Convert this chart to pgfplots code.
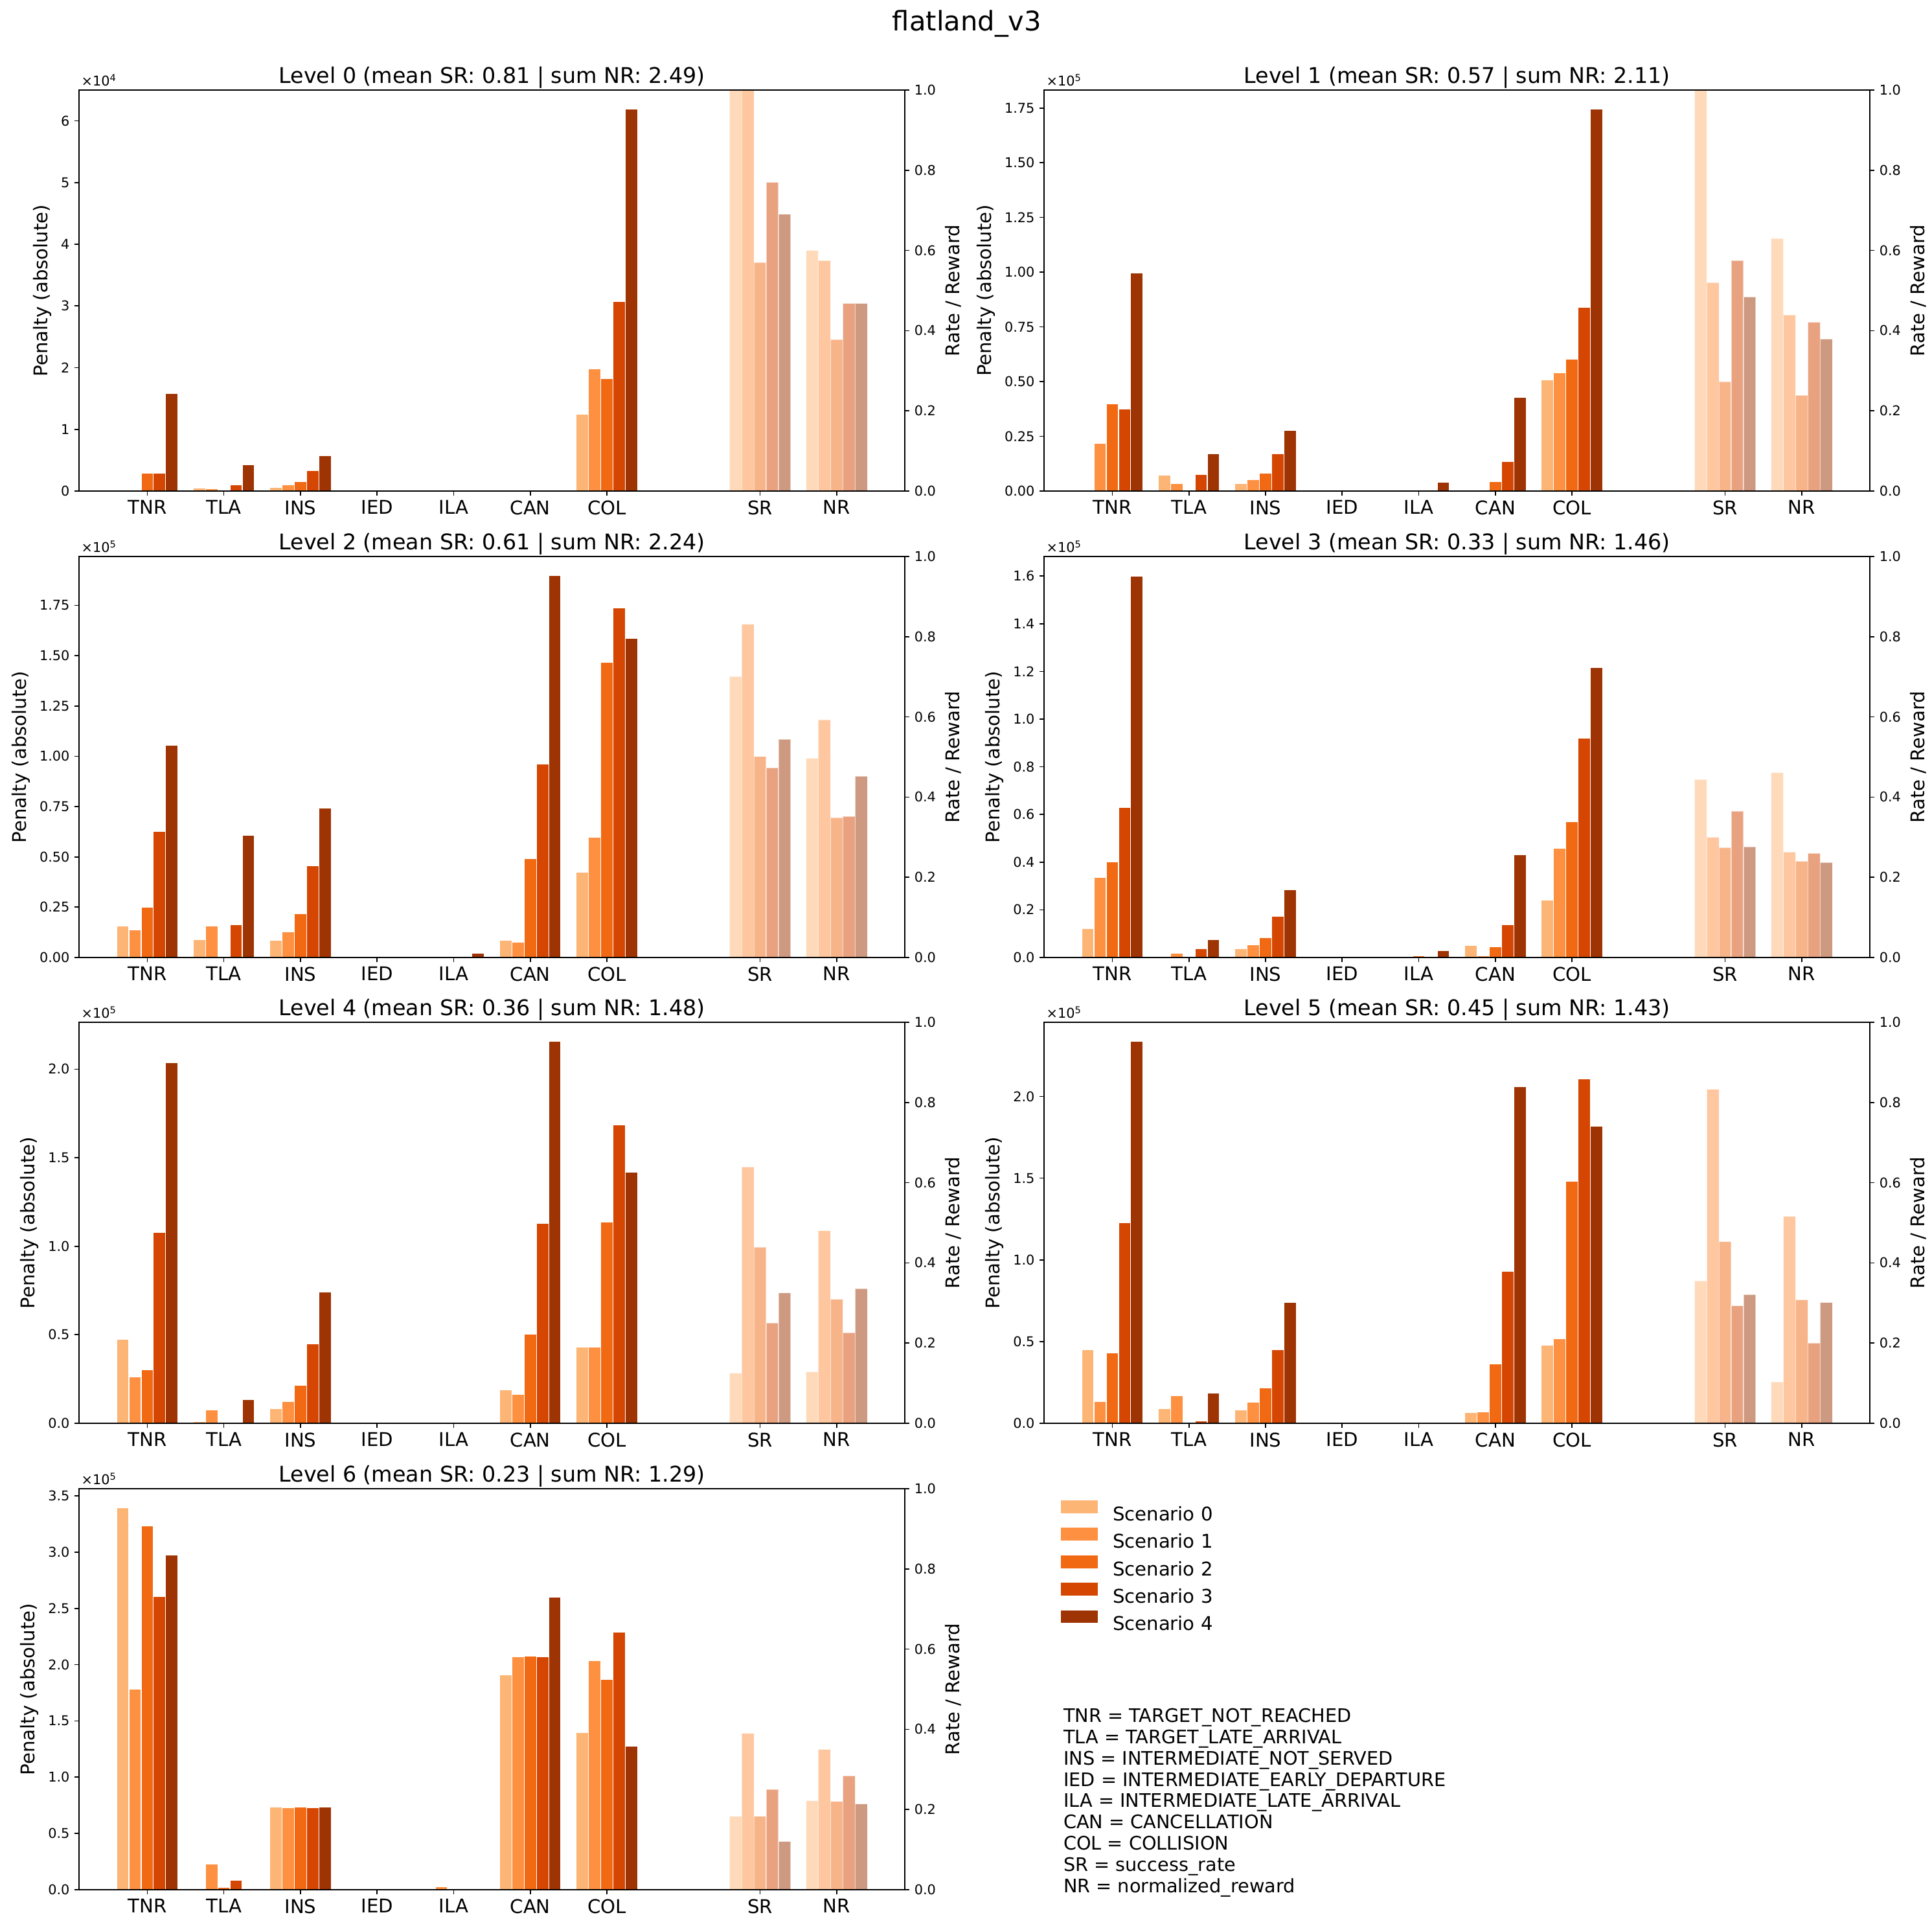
\documentclass[border=0pt]{standalone}
\usepackage{fontspec}
\setmainfont{DejaVu Sans}
\usepackage{pgfplots}
\usepackage{pgfplotstable}
\pgfplotsset{compat=1.18}

\definecolor{c0}{HTML}{FDB576}
\definecolor{c1}{HTML}{FD9041}
\definecolor{c2}{HTML}{F16913}
\definecolor{c3}{HTML}{D44601}
\definecolor{c4}{HTML}{9E3303}

% ---------------- data (penalty in units of the axis multiplier) ----------------
\pgfplotstableread{
x s0 s1 s2 s3 s4
0 0 0 0.29 0.29 1.58
1 0.048 0.039 0 0.098 0.43
2 0.06 0.098 0.154 0.333 0.575
3 0 0 0 0 0
4 0 0 0 0 0
5 0 0 0 0 0
6 1.24 1.98 1.82 3.07 6.19
}\penA
\pgfplotstableread{
x s0 s1 s2 s3 s4
8 1.0 1.0 0.57 0.77 0.69
9 0.60 0.575 0.378 0.468 0.468
}\rateA

\pgfplotstableread{
x s0 s1 s2 s3 s4
0 0 0.217 0.398 0.375 0.995
1 0.0715 0.033 0 0.075 0.17
2 0.033 0.052 0.081 0.17 0.277
3 0 0 0 0 0
4 0 0 0.005 0 0.04
5 0 0.004 0.042 0.134 0.428
6 0.508 0.54 0.602 0.84 1.745
}\penB
\pgfplotstableread{
x s0 s1 s2 s3 s4
8 1.0 0.52 0.273 0.575 0.484
9 0.63 0.439 0.239 0.421 0.379
}\rateB

\pgfplotstableread{
x s0 s1 s2 s3 s4
0 0.155 0.137 0.251 0.628 1.056
1 0.09 0.158 0 0.162 0.606
2 0.085 0.129 0.217 0.455 0.744
3 0 0 0 0 0
4 0 0 0.005 0 0.02
5 0.085 0.075 0.49 0.963 1.897
6 0.425 0.596 1.468 1.736 1.585
}\penC
\pgfplotstableread{
x s0 s1 s2 s3 s4
8 0.701 0.831 0.501 0.473 0.544
9 0.497 0.593 0.349 0.352 0.452
}\rateC

\pgfplotstableread{
x s0 s1 s2 s3 s4
0 0.12 0.335 0.40 0.628 1.60
1 0 0.017 0 0.038 0.074
2 0.036 0.052 0.082 0.172 0.284
3 0 0 0 0 0
4 0 0 0.007 0 0.03
5 0.05 0.008 0.045 0.137 0.431
6 0.241 0.457 0.569 0.919 1.215
}\penD
\pgfplotstableread{
x s0 s1 s2 s3 s4
8 0.444 0.30 0.274 0.365 0.276
9 0.461 0.263 0.24 0.26 0.237
}\rateD

\pgfplotstableread{
x s0 s1 s2 s3 s4
0 0.473 0.262 0.301 1.078 2.036
1 0.011 0.077 0 0 0.133
2 0.084 0.124 0.213 0.45 0.74
3 0 0 0 0 0
4 0 0 0 0 0.007
5 0.187 0.165 0.503 1.13 2.157
6 0.429 0.429 1.137 1.684 1.417
}\penE
\pgfplotstableread{
x s0 s1 s2 s3 s4
8 0.125 0.639 0.439 0.25 0.325
9 0.128 0.48 0.309 0.226 0.336
}\rateE

\pgfplotstableread{
x s0 s1 s2 s3 s4
0 0.451 0.135 0.43 1.228 2.337
1 0.09 0.167 0 0.015 0.186
2 0.083 0.128 0.215 0.449 0.74
3 0 0 0 0 0
4 0 0 0 0 0.007
5 0.064 0.071 0.362 0.93 2.059
6 0.477 0.516 1.482 2.106 1.817
}\penF
\pgfplotstableread{
x s0 s1 s2 s3 s4
8 0.355 0.833 0.453 0.293 0.321
9 0.103 0.516 0.308 0.2 0.301
}\rateF

\pgfplotstableread{
x s0 s1 s2 s3 s4
0 3.394 1.783 3.234 2.608 2.973
1 0.005 0.226 0.019 0.083 0
2 0.737 0.729 0.737 0.729 0.737
3 0 0 0 0 0
4 0 0.024 0.008 0.008 0.008
5 1.908 2.071 2.076 2.071 2.598
6 1.395 2.036 1.869 2.292 1.275
}\penG
\pgfplotstableread{
x s0 s1 s2 s3 s4
8 0.183 0.39 0.183 0.25 0.12
9 0.222 0.35 0.22 0.284 0.214
}\rateG

\pgfplotsset{
  common/.style={scale only axis, width=612pt, height=297.1pt, anchor=north west,
    xmin=-0.89, xmax=9.89, ymin=0, axis on top, clip mode=individual,
    tick align=outside, major tick length=3.5pt,
    axis line style={line width=0.8pt},
    tick style={black, line width=0.8pt},
    scaled y ticks=false,
    /pgf/number format/assume math mode=true,
    yticklabel style={font=\fontsize{10}{12}\selectfont},
    ylabel style={font=\fontsize{14}{16}\selectfont}},
  pen/.style={common,
    xtick={0,1,2,3,4,5,6,8,9},
    xticklabels={TNR,TLA,INS,IED,ILA,CAN,COL,SR,NR},
    xticklabel style={font=\fontsize{14}{16}\selectfont},
    xtick pos=left, ytick pos=left,
    ylabel={Penalty (absolute)},
    every axis title/.style={at={(0.5,1)}, anchor=base, yshift=5pt,
      font=\fontsize{16}{19}\selectfont}},
  rate/.style={common, ymax=1, ytick={0,0.2,0.4,0.6,0.8,1.0}, xtick=\empty,
    ytick pos=right, ylabel={Rate / Reward},
    yticklabel style={/pgf/number format/.cd, fixed, fixed zerofill, precision=1}},
  mybar/.style={ybar, bar width=0.16, draw=white, line width=0.6pt},
}

\newcommand{\panel}[9]{%
  \begin{axis}[pen, at={(#1,#2)}, ymax=#5, ytick={#6},
      yticklabel style={/pgf/number format/.cd, fixed, fixed zerofill, precision=#7},
      title={#9}]
    \addplot[mybar, fill=c0, bar shift=-0.32] table[x=x,y=s0]{#3};
    \addplot[mybar, fill=c1, bar shift=-0.16] table[x=x,y=s1]{#3};
    \addplot[mybar, fill=c2, bar shift=0] table[x=x,y=s2]{#3};
    \addplot[mybar, fill=c3, bar shift=0.16] table[x=x,y=s3]{#3};
    \addplot[mybar, fill=c4, bar shift=0.32] table[x=x,y=s4]{#3};
    \node[anchor=base west, inner sep=0pt, xshift=1.5pt, yshift=3pt,
      font=\fontsize{10}{12}\selectfont] at (rel axis cs:0,1) {×10\textsuperscript{#8}};
  \end{axis}
  \begin{axis}[rate, at={(#1,#2)}]
    \addplot[mybar, fill=c0, opacity=0.5, bar shift=-0.32] table[x=x,y=s0]{#4};
    \addplot[mybar, fill=c1, opacity=0.5, bar shift=-0.16] table[x=x,y=s1]{#4};
    \addplot[mybar, fill=c2, opacity=0.5, bar shift=0] table[x=x,y=s2]{#4};
    \addplot[mybar, fill=c3, opacity=0.5, bar shift=0.16] table[x=x,y=s3]{#4};
    \addplot[mybar, fill=c4, opacity=0.5, bar shift=0.32] table[x=x,y=s4]{#4};
  \end{axis}}

\begin{document}
\begin{tikzpicture}
\useasboundingbox (0,0) rectangle (1431.8pt,-1426.6pt);
\node[anchor=base, inner sep=0pt, font=\fontsize{20}{24}\selectfont] at (716.6pt,-23pt) {flatland\_v3};

\panel{58.6pt}{-66.7pt}{\penA}{\rateA}{6.5}{0,1,2,3,4,5,6}{0}{4}{Level 0 (mean SR: 0.81 | sum NR: 2.49)}
\panel{773.8pt}{-66.7pt}{\penB}{\rateB}{1.832}{0,0.25,0.5,0.75,1,1.25,1.5,1.75}{2}{5}{Level 1 (mean SR: 0.57 | sum NR: 2.11)}
\panel{58.6pt}{-412.3pt}{\penC}{\rateC}{1.993}{0,0.25,0.5,0.75,1,1.25,1.5,1.75}{2}{5}{Level 2 (mean SR: 0.61 | sum NR: 2.24)}
\panel{773.8pt}{-412.3pt}{\penD}{\rateD}{1.682}{0,0.2,0.4,0.6,0.8,1,1.2,1.4,1.6}{1}{5}{Level 3 (mean SR: 0.33 | sum NR: 1.46)}
\panel{58.6pt}{-757.4pt}{\penE}{\rateE}{2.265}{0,0.5,1,1.5,2}{1}{5}{Level 4 (mean SR: 0.36 | sum NR: 1.48)}
\panel{773.8pt}{-757.4pt}{\penF}{\rateF}{2.454}{0,0.5,1,1.5,2}{1}{5}{Level 5 (mean SR: 0.45 | sum NR: 1.43)}
\panel{58.6pt}{-1103pt}{\penG}{\rateG}{3.564}{0,0.5,1,1.5,2,2.5,3,3.5}{1}{5}{Level 6 (mean SR: 0.23 | sum NR: 1.29)}

\begin{axis}[scale only axis, width=612pt, height=297.1pt, anchor=north west,
    at={(773.8pt,-1103pt)}, hide axis, xmin=0, xmax=1, ymin=0, ymax=1,
    legend cell align=left,
    legend style={at={(0.0203,0.971)}, anchor=north west, draw=none, fill=none,
      inner sep=0pt, outer sep=0pt,
      font=\fontsize{14}{16}\selectfont, row sep=5.3pt, column sep=11pt,
      nodes={inner sep=0pt, text height=10.5pt, text depth=0pt}}]
  \addlegendimage{legend image code/.code={\fill[c0] (0pt,0.6pt) rectangle (27pt,9.6pt);}}
  \addlegendentry{Scenario 0}
  \addlegendimage{legend image code/.code={\fill[c1] (0pt,0.6pt) rectangle (27pt,9.6pt);}}
  \addlegendentry{Scenario 1}
  \addlegendimage{legend image code/.code={\fill[c2] (0pt,0.6pt) rectangle (27pt,9.6pt);}}
  \addlegendentry{Scenario 2}
  \addlegendimage{legend image code/.code={\fill[c3] (0pt,0.6pt) rectangle (27pt,9.6pt);}}
  \addlegendentry{Scenario 3}
  \addlegendimage{legend image code/.code={\fill[c4] (0pt,0.6pt) rectangle (27pt,9.6pt);}}
  \addlegendentry{Scenario 4}
\end{axis}

\node[anchor=north west, align=left, inner sep=0pt, font=\fontsize{13.8}{15.8}\selectfont]
  at (788pt,-1265.5pt) {TNR = TARGET\_NOT\_REACHED\\
TLA = TARGET\_LATE\_ARRIVAL\\
INS = INTERMEDIATE\_NOT\_SERVED\\
IED = INTERMEDIATE\_EARLY\_DEPARTURE\\
ILA = INTERMEDIATE\_LATE\_ARRIVAL\\
CAN = CANCELLATION\\
COL = COLLISION\\
SR = success\_rate\\
NR = normalized\_reward};
\end{tikzpicture}
\end{document}
